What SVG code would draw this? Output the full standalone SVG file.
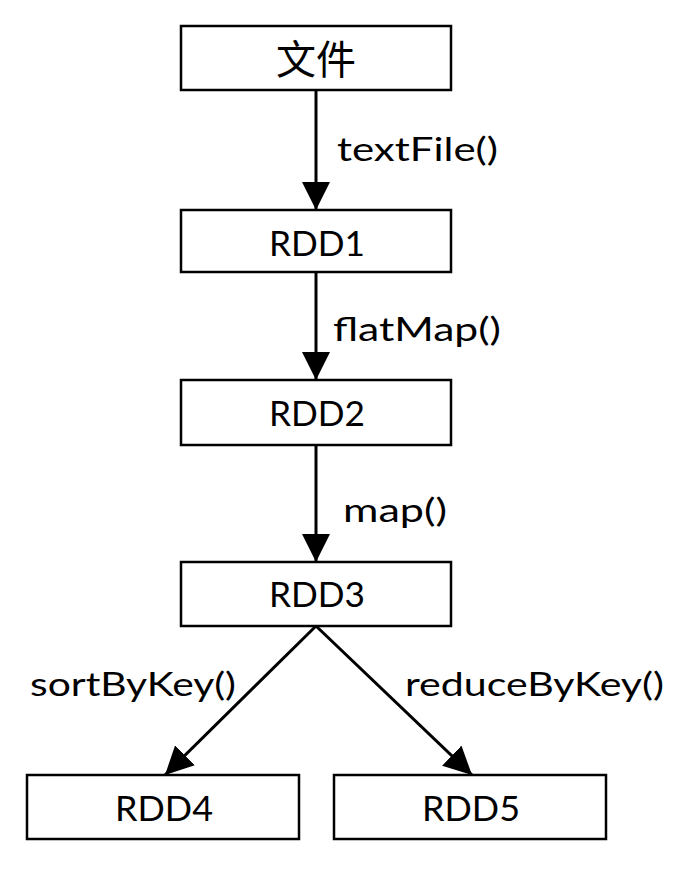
<svg xmlns="http://www.w3.org/2000/svg" width="684" height="878" viewBox="0 0 684 878">
<style>
.box{fill:#fff;stroke:#000;stroke-width:2.5}
.t{font-family:Lato,"Liberation Sans",sans-serif;font-size:33px;fill:#000}
.c{text-anchor:middle;font-size:35px}
.cjk{font-family:"Noto Sans CJK SC","Noto Sans",sans-serif;font-size:40px;text-anchor:middle}
.e{stroke:#000;stroke-width:3;fill:none;marker-end:url(#ah)}
</style>
<defs>
<marker id="ah" markerUnits="userSpaceOnUse" markerWidth="28" markerHeight="28" refX="26" refY="13" orient="auto" viewBox="0 0 26 26">
<path d="M0,0 L26,13 L0,26 z" fill="#000"/>
</marker>
</defs>
<rect width="684" height="878" fill="#fff"/>
<g id="connectors">
<line class="e" x1="316" y1="90" x2="316" y2="210"/>
<line class="e" x1="316" y1="272" x2="316" y2="380"/>
<line class="e" x1="316" y1="445" x2="316" y2="562"/>
<line class="e" x1="316" y1="626" x2="165" y2="775"/>
<line class="e" x1="316" y1="626" x2="472" y2="775"/>
<text class="t" x="337" y="161" textLength="161" lengthAdjust="spacingAndGlyphs">textFile()</text>
<text class="t" x="333" y="341" textLength="168" lengthAdjust="spacingAndGlyphs">flatMap()</text>
<text class="t" x="343" y="522" textLength="104" lengthAdjust="spacingAndGlyphs">map()</text>
<text class="t" x="30" y="696" textLength="206" lengthAdjust="spacingAndGlyphs">sortByKey()</text>
<text class="t" x="405" y="696" textLength="259" lengthAdjust="spacingAndGlyphs">reduceByKey()</text>
</g>
<g id="n0"><rect class="box" x="181" y="26" width="270" height="64"/><text class="cjk" x="316" y="74">文件</text></g>
<g id="n1"><rect class="box" x="181" y="210" width="270" height="62"/><text class="t c" x="317" y="256" textLength="96" lengthAdjust="spacingAndGlyphs">RDD1</text></g>
<g id="n2"><rect class="box" x="181" y="380" width="270" height="65"/><text class="t c" x="317" y="426" textLength="96" lengthAdjust="spacingAndGlyphs">RDD2</text></g>
<g id="n3"><rect class="box" x="181" y="562" width="270" height="64"/><text class="t c" x="317" y="607" textLength="96" lengthAdjust="spacingAndGlyphs">RDD3</text></g>
<g id="n4"><rect class="box" x="27" y="775" width="272" height="64"/><text class="t c" x="164" y="821" textLength="98" lengthAdjust="spacingAndGlyphs">RDD4</text></g>
<g id="n5"><rect class="box" x="334" y="775" width="272" height="64"/><text class="t c" x="471" y="821" textLength="98" lengthAdjust="spacingAndGlyphs">RDD5</text></g>
</svg>
